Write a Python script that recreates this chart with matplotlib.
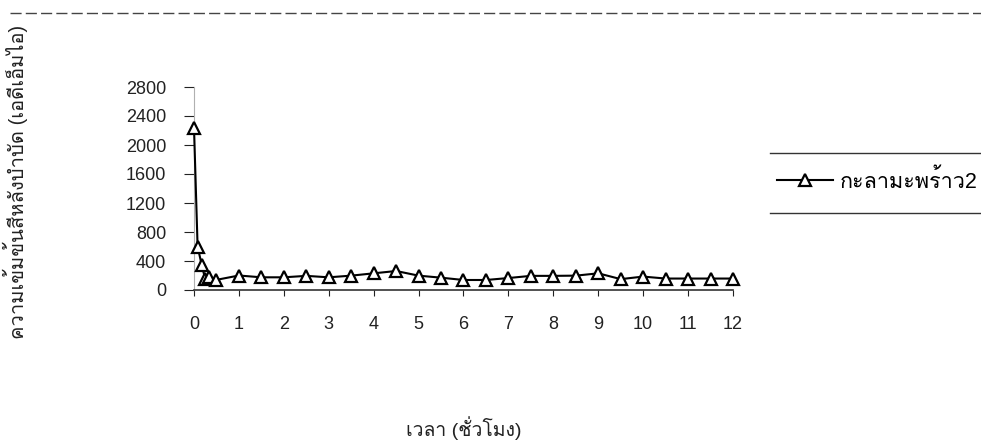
import matplotlib
matplotlib.use("Agg")
import matplotlib.pyplot as plt
from matplotlib import font_manager
from matplotlib.lines import Line2D
from fontTools.ttLib import TTFont

# sampling times (hours) and dye concentration after treatment (ADMI)
HOURS = [0, 0.08, 0.17, 0.25, 0.33, 0.5,
         1, 1.5, 2, 2.5, 3, 3.5, 4, 4.5, 5, 5.5, 6, 6.5,
         7, 7.5, 8, 8.5, 9, 9.5, 10, 10.5, 11, 11.5, 12]
ADMI = [2240, 600, 350, 150, 180, 140,
        200, 175, 175, 195, 175, 198, 230, 262, 198, 170, 138, 138,
        165, 195, 195, 198, 230, 150, 185, 158, 158, 158, 158]

SERIES_LABEL = "กะลามะพร้าว2"
X_LABEL = "เวลา (ชั่วโมง)"
Y_LABEL = "ความเข้มข้นสีหลังบำบัด (เอดีเอ็มไอ)"
X_TICKS = list(range(0, 13))
Y_TICKS = [0, 400, 800, 1200, 1600, 2000, 2400, 2800]


def thai_family():
    """Find an installed family that can draw Thai script."""
    for f in font_manager.fontManager.ttflist:
        try:
            font = TTFont(f.fname, fontNumber=0, lazy=True)
            cmap = font.getBestCmap()
        except Exception:
            continue
        if cmap and 0x0E01 in cmap:
            return f.name
    return "DejaVu Sans"


THAI = thai_family()
FAMILY = ["Liberation Sans", THAI, "DejaVu Sans"]
plt.rcParams["font.family"] = FAMILY

fig = plt.figure(figsize=(9.81, 4.45), dpi=100)
ax = fig.add_axes([194 / 981, 1 - 290 / 445, 539 / 981, 203 / 445])

ax.plot(HOURS, ADMI, color="black", linewidth=1.5, marker="^",
        markersize=9, markerfacecolor="white", markeredgecolor="black",
        markeredgewidth=1.6, clip_on=False, label=SERIES_LABEL, zorder=5)

ax.set_xlim(0, 12)
ax.set_ylim(0, 2800)
ax.set_xticks(X_TICKS)
ax.set_yticks(Y_TICKS)
ax.tick_params(axis="x", direction="out", length=4, width=0.8, pad=15,
               labelsize=13, colors="#222222")
ax.tick_params(axis="y", direction="out", length=7, width=0.8, pad=13,
               labelsize=13, colors="#222222")
ax.spines["top"].set_visible(False)
ax.spines["right"].set_visible(False)
ax.spines["left"].set_linewidth(0.8)
ax.spines["left"].set_color("#b0b0b0")
ax.spines["bottom"].set_linewidth(1.2)
ax.spines["bottom"].set_color("#333333")

fig.text(15 / 981, 1 - 182 / 445, Y_LABEL, rotation=90, ha="center",
         va="center", fontsize=14.5, color="#222222")
fig.text(464 / 981, 1 - 428 / 445, X_LABEL, ha="center", va="center",
         fontsize=14, color="#222222")

# legend with rules above and below
fig.legend(loc="center left", bbox_to_anchor=(777 / 981, 1 - 181 / 445),
           frameon=False, borderpad=0, borderaxespad=0, handlelength=2.6,
           handletextpad=0.3, fontsize=15.5)
for y in (153, 213):
    fig.add_artist(Line2D([770 / 981, 1.0], [1 - y / 445] * 2,
                          transform=fig.transFigure, color="#333333",
                          linewidth=1.0))

# dashed rule across the top of the page
fig.add_artist(Line2D([10 / 981, 1.0], [1 - 13 / 445] * 2,
                      transform=fig.transFigure, color="#444444",
                      linewidth=1.0, linestyle=(0, (8, 3))))

fig.savefig("out.png", dpi=100, facecolor="white")
